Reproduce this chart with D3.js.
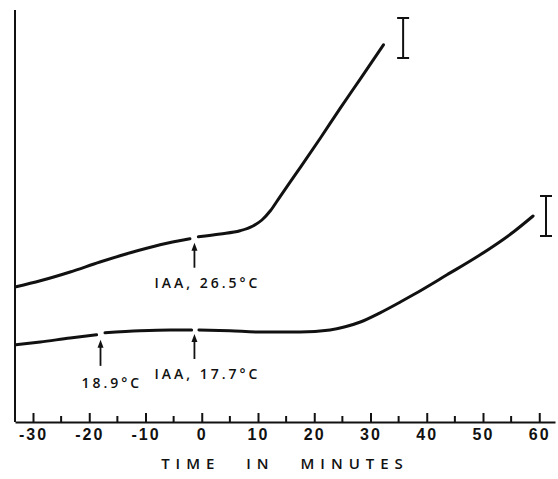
<!DOCTYPE html>
<html>
<head>
<meta charset="utf-8">
<script src="https://cdn.jsdelivr.net/npm/d3@7"></script>
<style>
body { margin: 0; background: #fff; }
svg { display: block; font-family: "Open Sans", sans-serif; }
.axis path, .axis line { stroke: #111; stroke-width: 2; }
.axis text { font-size: 16px; font-weight: 700; fill: #111; letter-spacing: 2px; }
.note { font-size: 14px; font-weight: 600; fill: #111; letter-spacing: 3px; }
</style>
</head>
<body>
<div id="chart"></div>
<script>
// traces (growth in arbitrary units), null = break in the trace
var upper_minutes = [-33, -28.7, -23.4, -18.1, -12.7, -7.4, -2.1, -1.3, -0.6, 3.3, 6.8, 9.1, 10.7, 12.2, 13.9, 17.5, 21.1, 24.6, 28.2, 32.3];
var upper_growth  = [33.8, 35.3, 37.5, 40, 42.3, 44.3, 45.8, null, 46.3, 47, 47.8, 49, 50.5, 52.8, 56.3, 63.6, 71, 78.4, 85.8, 94.3];

var lower_minutes = [-33, -28.7, -23.4, -18.7, -18.0, -17.2, -11.0, -5.6, -1.8, -1.2, -0.5, 5.0, 10.4, 17.5, 22.8, 25.5, 28.2, 31.7, 35.3, 37.6, 43.6, 49.5, 55.4, 58.9];
var lower_growth  = [19.3, 20, 21, 21.8, null, 22.3, 22.8, 23, 23, null, 23, 22.8, 22.5, 22.5, 23, 23.8, 25, 27.3, 30, 31.8, 36.8, 41.8, 47.5, 51.5];

// arrows marking treatments
var mark_minutes = [-1.3, -18.0, -1.3];
var mark_labels = ["IAA, 26.5°C", "18.9°C", "IAA, 17.7°C"];
var mark_series = ["upper", "lower", "lower"];

// scale bars
var bar_minutes = [35.8, 61.2];
var bar_centre = [96, 51.5];
var bar_half = 5;

var major_ticks = [-30, -20, -10, 0, 10, 20, 30, 40, 50, 60];
var minor_ticks = [-25, -15, -5, 5, 15, 25, 35, 45, 55];
var x_title = "TIME IN MINUTES";

// layout of the arrow notes (px): gap under trace, arrow length, text offsets
var mark_layout = [
    {gap: 5, len: 25, dx: -40, dy: 45},
    {gap: 6, len: 26, dx: -19, dy: 48},
    {gap: 4, len: 25, dx: -40, dy: 45}
];

var margin = {top: 10, right: 3, bottom: 57, left: 15};
var total_w = 558, total_h = 479;
var w = total_w - margin.left - margin.right;
var h = total_h - margin.top - margin.bottom;

var svg = d3.select("#chart").append("svg")
            .attr("width", total_w)
            .attr("height", total_h);

var g = svg.append("g")
           .attr("transform", "translate(" + margin.left + "," + margin.top + ")");

var xscale = d3.scaleLinear()
               .domain([-33.2, 62.8])
               .range([0, w]);

var yscale = d3.scaleLinear()
               .domain([0, 103])
               .range([h, 0]);

// x axis, ticks pointing up
var xaxis = d3.axisBottom(xscale)
              .tickValues(major_ticks)
              .tickFormat(function(d) { return String(d); })
              .tickSizeInner(-9)
              .tickSizeOuter(0)
              .tickPadding(7);

var gx = g.append("g")
          .attr("class", "axis")
          .attr("transform", "translate(0," + h + ")")
          .call(xaxis);

gx.selectAll(".minor")
  .data(minor_ticks)
  .enter()
  .append("line")
  .attr("class", "minor")
  .attr("x1", function(d) { return xscale(d); })
  .attr("x2", function(d) { return xscale(d); })
  .attr("y1", 0)
  .attr("y2", -6)
  .style("stroke", "#111")
  .style("stroke-width", 2);

// y axis is a bare line
g.append("line")
 .attr("x1", 0).attr("x2", 0)
 .attr("y1", 0).attr("y2", h)
 .style("stroke", "#111")
 .style("stroke-width", 2);

g.append("text")
 .attr("x", w / 2)
 .attr("y", h + 47)
 .attr("text-anchor", "middle")
 .style("font-size", "15px")
 .style("font-weight", 600)
 .style("letter-spacing", "6px")
 .style("word-spacing", "16px")
 .style("fill", "#111")
 .text(x_title);

// traces
var series = {
    upper: upper_minutes.map(function(t, i) { return {t: t, v: upper_growth[i]}; }),
    lower: lower_minutes.map(function(t, i) { return {t: t, v: lower_growth[i]}; })
};

var line = d3.line()
             .defined(function(d) { return d.v !== null; })
             .curve(d3.curveMonotoneX)
             .x(function(d) { return xscale(d.t); })
             .y(function(d) { return yscale(d.v); });

["upper", "lower"].forEach(function(key) {
    g.append("path")
     .datum(series[key])
     .attr("d", line)
     .attr("fill", "none")
     .attr("stroke", "#111")
     .attr("stroke-width", 3)
     .attr("stroke-linecap", "round");
});

// value of a trace at time t, ignoring the break
function valueAt(key, t) {
    var pts = series[key].filter(function(d) { return d.v !== null; });
    for (var i = 1; i < pts.length; i++) {
        if (pts[i].t >= t) {
            var a = pts[i - 1], b = pts[i];
            return a.v + (b.v - a.v) * (t - a.t) / (b.t - a.t);
        }
    }
    return pts[pts.length - 1].v;
}

// arrows and notes
mark_minutes.forEach(function(t, i) {
    var lay = mark_layout[i];
    var x = xscale(t);
    var y0 = yscale(valueAt(mark_series[i], t)) + lay.gap;
    g.append("line")
     .attr("x1", x).attr("x2", x)
     .attr("y1", y0 + 4).attr("y2", y0 + lay.len)
     .style("stroke", "#111")
     .style("stroke-width", 1.8);
    g.append("path")
     .attr("d", "M" + x + "," + y0 + "L" + (x - 3) + "," + (y0 + 8) + "L" + (x + 3) + "," + (y0 + 8) + "Z")
     .attr("fill", "#111");
    g.append("text")
     .attr("class", "note")
     .attr("x", x + lay.dx)
     .attr("y", y0 + lay.dy)
     .text(mark_labels[i]);
});

// scale bars
bar_minutes.forEach(function(t, i) {
    var x = xscale(t);
    var y1 = yscale(bar_centre[i] + bar_half);
    var y2 = yscale(bar_centre[i] - bar_half);
    var bar = g.append("g").style("stroke", "#111").style("stroke-width", 2);
    bar.append("line").attr("x1", x).attr("x2", x).attr("y1", y1).attr("y2", y2);
    bar.append("line").attr("x1", x - 6).attr("x2", x + 6).attr("y1", y1).attr("y2", y1);
    bar.append("line").attr("x1", x - 6).attr("x2", x + 6).attr("y1", y2).attr("y2", y2);
});
</script>
</body>
</html>
